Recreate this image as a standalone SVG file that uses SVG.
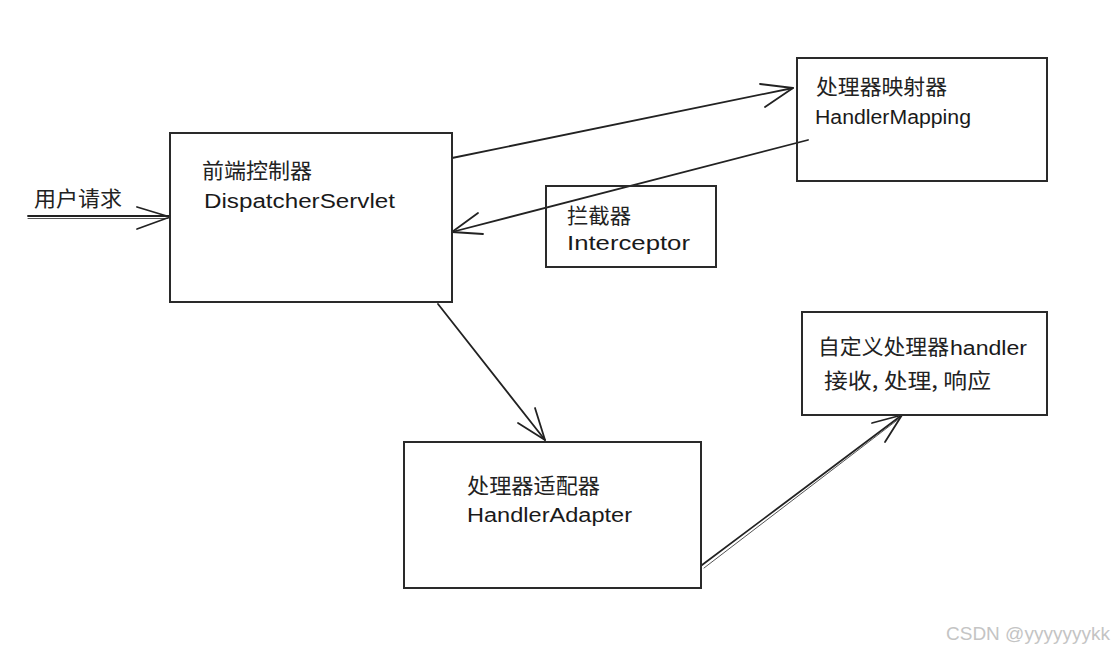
<svg xmlns="http://www.w3.org/2000/svg" width="1115" height="652" viewBox="0 0 1115 652">
<style>
.box{fill:none;stroke:#2a2a2a;stroke-width:2}
.edge{fill:none;stroke:#222;stroke-width:1.8;stroke-linecap:round;stroke-linejoin:round}
.thin{fill:none;stroke:#555;stroke-width:1;stroke-linecap:round}
.cjk{font-family:"Noto Sans CJK SC","Noto Sans",sans-serif;font-size:21px;fill:#222}
.lat{font-family:"Liberation Sans","DejaVu Sans",sans-serif;font-size:20px;fill:#1a1a1a}
.wm{font-family:"Liberation Sans",Arial,sans-serif;font-size:19px;fill:#c4c4c4}
</style>
<rect width="1115" height="652" fill="#ffffff"/>

<g id="connectors">
  <!-- user request input -->
  <line class="edge" x1="28" y1="216" x2="170" y2="216"/>
  <line class="thin" x1="28" y1="218.5" x2="168" y2="218.5"/>
  <polyline class="edge" points="137,207 170,217 137,229"/>
  <!-- Dispatcher -> HandlerMapping -->
  <line class="edge" x1="452" y1="158" x2="793" y2="88"/>
  <polyline class="edge" points="760,84 793,88 765,107"/>
  <!-- HandlerMapping -> Dispatcher -->
  <line class="edge" x1="808" y1="140" x2="452" y2="232"/>
  <polyline class="edge" points="478,213 452,232 483,234"/>
  <!-- Dispatcher -> HandlerAdapter -->
  <line class="edge" x1="438" y1="304" x2="545" y2="440"/>
  <polyline class="edge" points="535,408 545,440 518,423"/>
  <!-- HandlerAdapter -> handler -->
  <line class="edge" x1="702" y1="565" x2="902" y2="415"/>
  <line class="thin" x1="704" y1="568" x2="900" y2="418"/>
  <polyline class="edge" points="872,423 902,415 885,442"/>
</g>

<g id="dispatcher">
  <rect class="box" x="170" y="133" width="282" height="169"/>
  <text class="cjk" x="202" y="178" textLength="110" lengthAdjust="spacingAndGlyphs">前端控制器</text>
  <text class="lat" x="204" y="208" textLength="191" lengthAdjust="spacingAndGlyphs">DispatcherServlet</text>
</g>

<g id="user-request">
  <text class="cjk" x="34" y="206" textLength="88" lengthAdjust="spacingAndGlyphs">用户请求</text>
</g>

<g id="handler-mapping">
  <rect class="box" x="797" y="58" width="250" height="123"/>
  <text class="cjk" x="816" y="94" textLength="131" lengthAdjust="spacingAndGlyphs">处理器映射器</text>
  <text class="lat" x="815" y="124" textLength="156" lengthAdjust="spacingAndGlyphs">HandlerMapping</text>
</g>

<g id="interceptor">
  <rect class="box" x="546" y="186" width="170" height="81"/>
  <text class="cjk" x="567" y="223" textLength="64" lengthAdjust="spacingAndGlyphs">拦截器</text>
  <text class="lat" x="567" y="250" textLength="123" lengthAdjust="spacingAndGlyphs">Interceptor</text>
</g>

<g id="handler-adapter">
  <rect class="box" x="404" y="442" width="297" height="146"/>
  <text class="cjk" x="467" y="493" textLength="133" lengthAdjust="spacingAndGlyphs">处理器适配器</text>
  <text class="lat" x="467" y="522" textLength="165" lengthAdjust="spacingAndGlyphs">HandlerAdapter</text>
</g>

<g id="handler">
  <rect class="box" x="802" y="312" width="245" height="103"/>
  <text class="cjk" x="818" y="354" textLength="131" lengthAdjust="spacingAndGlyphs">自定义处理器</text>
  <text class="lat" x="950" y="355" textLength="77" lengthAdjust="spacingAndGlyphs">handler</text>
  <text class="cjk" x="824" y="388" textLength="167" lengthAdjust="spacingAndGlyphs">接收, 处理, 响应</text>
</g>

<g id="watermark">
  <text class="wm" x="946" y="640">CSDN @yyyyyyykk</text>
</g>
</svg>
